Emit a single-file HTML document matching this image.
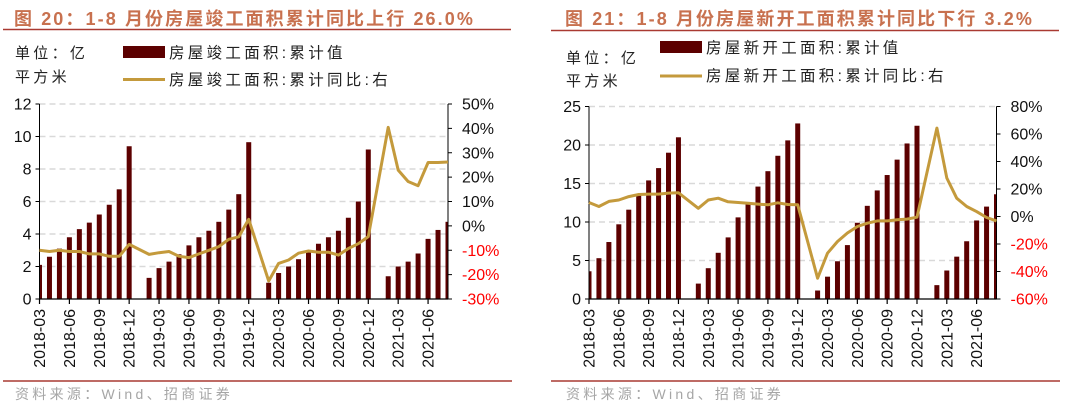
<!DOCTYPE html>
<html><head><meta charset="utf-8">
<style>
body{margin:0;background:#fff;width:1080px;height:407px;overflow:hidden;font-family:"Liberation Sans","Noto Sans CJK SC",sans-serif;}
svg{position:absolute;left:0;top:0}
.t{letter-spacing:2.1px}
.l{letter-spacing:3.3px}
</style></head>
<body>
<svg id="chart" width="1080" height="407" xmlns="http://www.w3.org/2000/svg">
<g>
<text class="t" x="14" y="25" font-size="18" font-weight="bold" fill="#c8714f">图 20：1-8 月份房屋竣工面积累计同比上行 26.0%</text>
<line x1="3" y1="29.5" x2="511" y2="29.5" stroke="#a93a32" stroke-width="1.5"/>
<text class="l" x="15" y="58" font-size="15" fill="#222">单位：亿</text>
<text class="l" x="15" y="82" font-size="15" fill="#222">平方米</text>
<rect x="123" y="46" width="42" height="12" fill="#5c0000"/>
<text class="l" x="169" y="58" font-size="15.5" fill="#222">房屋竣工面积:累计值</text>
<line x1="123" y1="79.5" x2="165" y2="79.5" stroke="#c49a3c" stroke-width="3"/>
<text class="l" x="169" y="85" font-size="15.5" fill="#222">房屋竣工面积:累计同比:右</text>
<line x1="3" y1="381" x2="512" y2="381" stroke="#a93a32" stroke-width="1.5"/>
<text class="l" x="15" y="399" font-size="14" fill="#a6a6a6">资料来源：Wind、招商证券</text>
</g>
<g>
<text class="t" x="565" y="25" font-size="18" font-weight="bold" fill="#c8714f">图 21：1-8 月份房屋新开工面积累计同比下行 3.2%</text>
<line x1="551" y1="30.5" x2="1059" y2="30.5" stroke="#a93a32" stroke-width="1.5"/>
<text class="l" x="566" y="63" font-size="15" fill="#222">单位：亿</text>
<text class="l" x="566" y="86" font-size="15" fill="#222">平方米</text>
<rect x="660" y="41" width="42" height="12" fill="#5c0000"/>
<text class="l" x="706" y="53" font-size="15.5" fill="#222">房屋新开工面积:累计值</text>
<line x1="660" y1="76" x2="702" y2="76" stroke="#c49a3c" stroke-width="3"/>
<text class="l" x="706" y="81" font-size="15.5" fill="#222">房屋新开工面积:累计同比:右</text>
<line x1="551" y1="381" x2="1060" y2="381" stroke="#a93a32" stroke-width="1.5"/>
<text class="l" x="566" y="399" font-size="14" fill="#a6a6a6">资料来源：Wind、招商证券</text>
</g>
</svg>
<script>
const months = [];
for (let y = 2018; y <= 2021; y++) for (let m = 1; m <= 12; m++) {
  if ((y === 2018 && m < 3) || (y === 2021 && m > 8)) continue;
  months.push(y + '-' + String(m).padStart(2, '0'));
}
const tickLabels = ['2018-03','2018-06','2018-09','2018-12','2019-03','2019-06','2019-09','2019-12','2020-03','2020-06','2020-09','2020-12','2021-03','2021-06'];
const completionValues = [2.1,2.6,3.1,3.8,4.3,4.7,5.2,5.8,6.75,9.4,
 null,1.3,1.9,2.3,2.75,3.3,3.8,4.2,4.75,5.5,6.45,9.65,
 null,1.0,1.6,2.0,2.45,2.9,3.4,3.8,4.2,5.0,6.0,9.2,
 null,1.4,2.0,2.3,2.8,3.7,4.25,4.75];
const completionYoY = [-10,-10.5,-10,-10.5,-10.5,-11.5,-11.5,-12.5,-12.5,-7.6,
 null,-11.7,-11,-10.5,-12.5,-13,-11.5,-10,-8.5,-5.5,-4.5,2.7,
 null,-22.6,-15.4,-14,-11.2,-10.3,-10.8,-10.8,-12,-9.3,-7.3,-4.4,
 null,40.4,22.9,18.2,16.5,26,26,26.2];
const startsValues = [3.6,5.3,7.4,9.7,11.6,13.5,15.4,17.0,19.0,21.0,
 null,2.0,4.0,6.0,8.0,10.6,12.6,14.6,16.6,18.6,20.6,22.8,
 null,1.1,2.9,4.9,7.0,9.9,12.1,14.1,16.1,18.1,20.2,22.5,
 null,1.8,3.7,5.5,7.5,10.2,12.0,13.6];
const startsYoY = [10.2,7.3,11,12,14.5,16,16.3,16.3,17,17.2,
 null,6,12,13.3,10.7,10.2,9.7,9,8.5,10,8.7,8.5,
 null,-44.9,-26.7,-18.2,-12,-7.3,-4.9,-3.2,-3.2,-2.4,-1.9,-0.5,
 null,64.3,28,13.3,7.3,3.6,-0.7,-3.2];
const leftTicksA = [0,2,4,6,8,10,12];
const rightTicksA = [-30,-20,-10,0,10,20,30,40,50];
const leftTicksB = [0,5,10,15,20,25];
const rightTicksB = [-60,-40,-20,0,20,40,60,80];

const NS = 'http://www.w3.org/2000/svg';
const svg = document.getElementById('chart');
function mk(tag, attrs, parent) {
  const e = document.createElementNS(NS, tag);
  for (const k in attrs) e.setAttribute(k, attrs[k]);
  (parent || svg).appendChild(e);
  return e;
}
function draw(cfg, pre) {
  const g = mk('g', {});
  
  
  const n = months.length;
  const x = i => cfg.x0 + i * (cfg.x1 - cfg.x0) / (n - 1);
  const yL = v => cfg.yBot - (v - cfg.lMin) / (cfg.lMax - cfg.lMin) * (cfg.yBot - cfg.yTop);
  const yR = v => cfg.yBot - (v - cfg.rMin) / (cfg.rMax - cfg.rMin) * (cfg.yBot - cfg.yTop);
  cfg.lt.forEach(t => {
    if (t > cfg.lMin) {
      const gl = mk('line', {x1: cfg.x0, x2: cfg.x1, y1: yL(t), y2: yL(t), stroke: '#d9d9d9', 'stroke-width': 1.5, 'stroke-dasharray': '6,4'}, g);
      
      
    }
    const tx = mk('text', {x: cfg.x0 - 8, y: yL(t) + 5.5, 'font-size': 16, 'text-anchor': 'end', fill: '#111'}, g);
    tx.textContent = t;
    
    
  });
  cfg.rt.forEach(t => {
    const tx = mk('text', {x: cfg.x1 + 14, y: yR(t) + 5.5, 'font-size': 16, fill: t < 0 ? '#ff0000' : '#111'}, g);
    tx.textContent = t + '%';
    
    
    mk('line', {x1: cfg.x1, x2: cfg.x1 + 4, y1: yR(t), y2: yR(t), stroke: '#000'}, g);
  });
  const clip = mk('clipPath', {id: pre + 'clip'}, g);
  mk('rect', {x: cfg.x0, y: cfg.yTop - 5, width: cfg.x1 - cfg.x0, height: cfg.yBot - cfg.yTop + 5}, clip);
  const bars = mk('g', {'clip-path': 'url(#' + pre + 'clip)'}, g);
  cfg.bars.forEach((v, i) => {
    if (v == null) return;
    const r = mk('rect', {x: x(i) - 2.5, y: yL(v), width: 5, height: yL(0) - yL(v), fill: '#5c0000'}, bars);
    
    
  });
  mk('line', {x1: cfg.x0, x2: cfg.x0, y1: cfg.yTop, y2: cfg.yBot, stroke: '#000', 'stroke-width': 1}, g);
  mk('line', {x1: cfg.x1, x2: cfg.x1, y1: cfg.yTop, y2: cfg.yBot, stroke: '#000', 'stroke-width': 1}, g);
  mk('line', {x1: cfg.x0, x2: cfg.x1, y1: cfg.yBot, y2: cfg.yBot, stroke: '#000', 'stroke-width': 1.2}, g);
  cfg.lt.forEach(t => mk('line', {x1: cfg.x0 - 4, x2: cfg.x0, y1: yL(t), y2: yL(t), stroke: '#000'}, g));
  months.forEach((m, i) => {
    if (!tickLabels.includes(m)) return;
    mk('line', {x1: x(i), x2: x(i), y1: cfg.yBot, y2: cfg.yBot + 5, stroke: '#000', 'stroke-width': 1.2}, g);
    const tx = mk('text', {transform: 'translate(' + (x(i) + 5.5) + ',' + (cfg.yBot + 10) + ') rotate(-90)', 'font-size': 16, 'text-anchor': 'end', fill: '#111'}, g);
    tx.textContent = m;
    
    
  });
  let d = '';
  cfg.line.forEach((v, i) => { if (v == null) return; d += (d ? 'L' : 'M') + x(i).toFixed(1) + ',' + yR(v).toFixed(1); });
  const p = mk('path', {d: d, fill: 'none', stroke: '#c49a3c', 'stroke-width': 3, 'stroke-linejoin': 'round'}, g);
  
  
}
draw({x0: 39.5, x1: 448, yTop: 104, yBot: 299, lMin: 0, lMax: 12, rMin: -30, rMax: 50, lt: leftTicksA, rt: rightTicksA, bars: completionValues, line: completionYoY}, 'completion');
draw({x0: 589, x1: 996.5, yTop: 106.5, yBot: 299, lMin: 0, lMax: 25, rMin: -60, rMax: 80, lt: leftTicksB, rt: rightTicksB, bars: startsValues, line: startsYoY}, 'starts');
</script>
</body></html>
